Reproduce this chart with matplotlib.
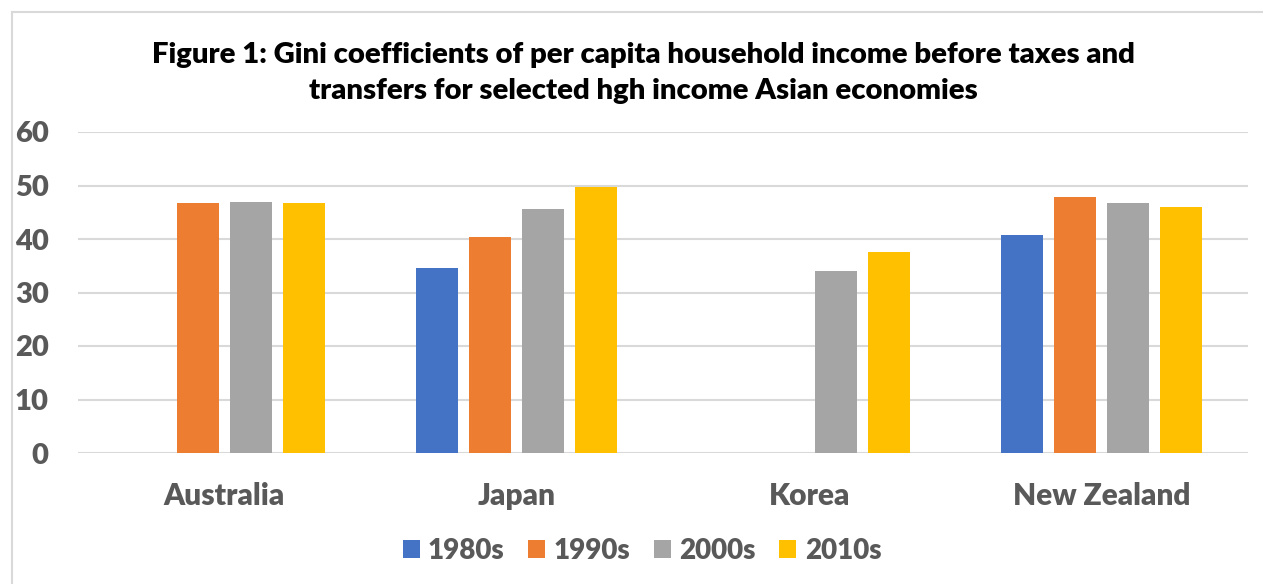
import numpy as np
import matplotlib.pyplot as plt
from matplotlib.lines import Line2D

# Gini coefficients (before taxes and transfers), by decade
countries = ["Australia", "Japan", "Korea", "New Zealand"]
decades = ["1980s", "1990s", "2000s", "2010s"]
gini_1980s = [np.nan, 34.5, np.nan, 40.8]
gini_1990s = [46.7, 40.3, np.nan, 47.8]
gini_2000s = [47.0, 45.7, 34.0, 46.7]
gini_2010s = [46.7, 49.7, 37.5, 45.9]

colours = ["#4472c4", "#ed7d31", "#a5a5a5", "#ffc000"]
txt_grey = "#595959"
grid_grey = "#d9d9d9"

plt.rcParams['font.family'] = ['Lato', 'DejaVu Sans']

fig = plt.figure(figsize=(12.63, 5.84), dpi=100)
ax = fig.add_axes([78/1263, 1 - 453/584, 1170/1263, 321/584])

x = np.arange(len(countries))
slot = 53/292.5
width = 42/292.5
series = [gini_1980s, gini_1990s, gini_2000s, gini_2010s]
for i, (vals, col, lab) in enumerate(zip(series, colours, decades)):
    ax.bar(x + (i - 1.5)*slot, vals, width, color=col, label=lab, zorder=3)

ax.set_xlim(-0.5, len(countries) - 0.5)
ax.set_ylim(0, 60)
ax.set_yticks(range(0, 61, 10))
ax.yaxis.grid(True, color=grid_grey, lw=1.5, zorder=0)
for s in ax.spines.values():
    s.set_visible(False)
ax.tick_params(axis='both', length=0)
ax.tick_params(axis='y', pad=21, labelsize=21, labelcolor=txt_grey)
ax.tick_params(axis='x', pad=21, labelsize=21.5, labelcolor=txt_grey)
ax.set_xticks(x)
ax.set_xticklabels(countries)
for t in ax.get_xticklabels() + ax.get_yticklabels():
    t.set_fontweight('heavy')

fig.text(643/1263, 1 - 73/584,
         "Figure 1: Gini coefficients of per capita household income before taxes and\n"
         "transfers for selected hgh income Asian economies",
         ha='center', va='center', fontsize=21.1, fontweight='heavy',
         color='black', linespacing=1.52)

leg = fig.legend(loc='center', bbox_to_anchor=(642/1263, 1 - 551/584), ncol=4,
                 frameon=False, handlelength=0.61, handleheight=0.61,
                 handletextpad=0.3, columnspacing=0.85,
                 prop={'size': 20, 'weight': 'heavy'})
for t in leg.get_texts():
    t.set_color(txt_grey)

# chart-area border (left and top edges)
fig.add_artist(Line2D([12/1263, 12/1263], [0, 1 - 12/584], color=grid_grey, lw=1.5))
fig.add_artist(Line2D([12/1263, 1], [1 - 12/584, 1 - 12/584], color=grid_grey, lw=1.5))

fig.savefig("out.png", dpi=100)
